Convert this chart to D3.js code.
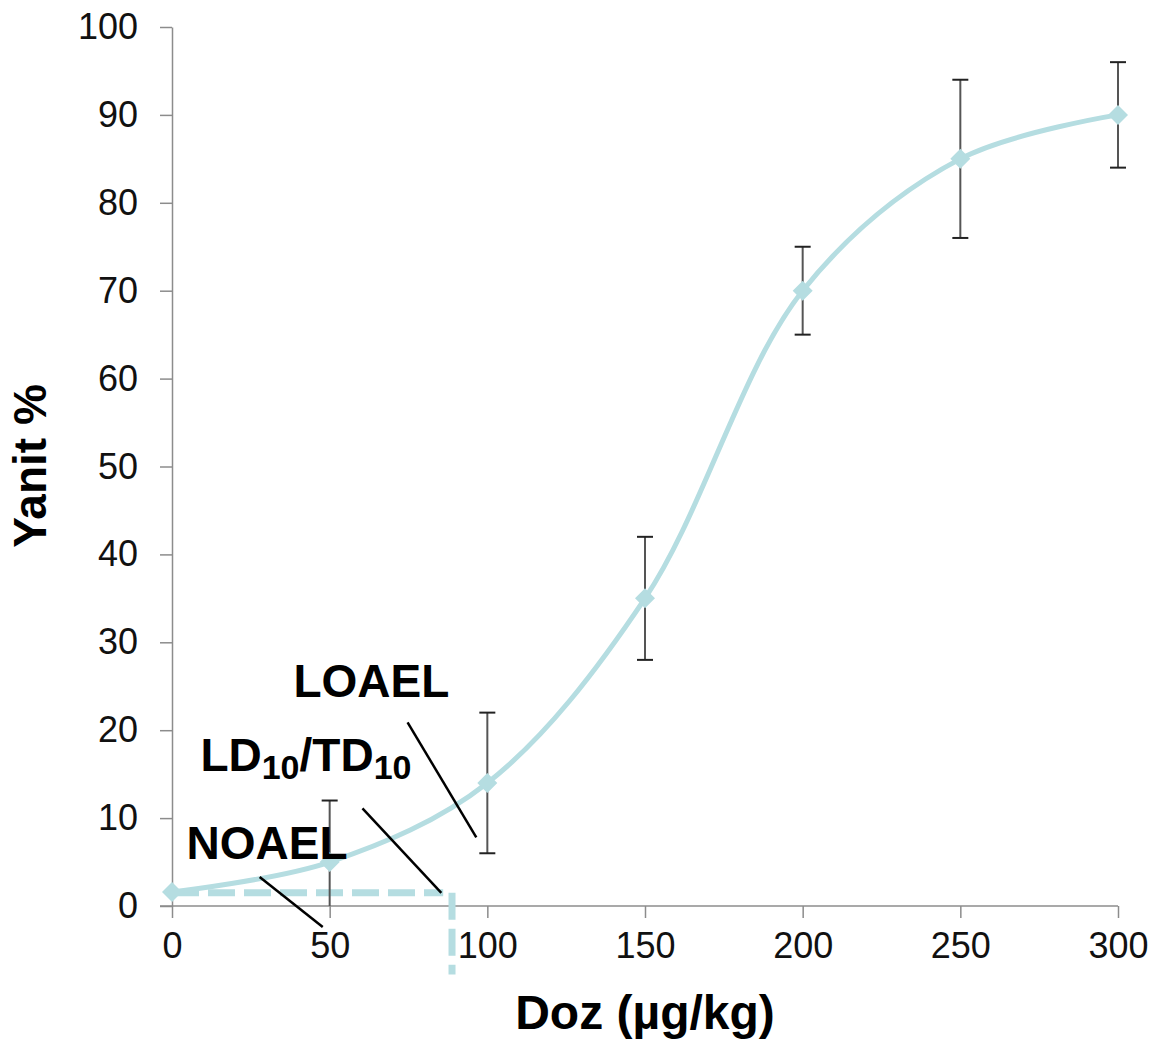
<!DOCTYPE html>
<html>
<head>
<meta charset="utf-8">
<script src="https://cdn.jsdelivr.net/npm/d3@7"></script>
<style>
  body { margin: 0; background: #fff; }
  svg text { font-family: "Liberation Sans", Arial, sans-serif; }
</style>
</head>
<body>
<svg id="chart" width="1151" height="1041"></svg>
<script>
// dose (µg/kg) vs response (%)
var doses = [0, 50, 100, 150, 200, 250, 300];
var yanit = [1.6, 5, 14, 35, 70, 85, 90];
var errUp = [0, 7, 8, 7, 5, 9, 6];
var errDown = [0, 7, 8, 7, 5, 9, 6];

var xTicks = [0, 50, 100, 150, 200, 250, 300];
var yTicks = [0, 10, 20, 30, 40, 50, 60, 70, 80, 90, 100];

// annotation labels and their leader lines, in data units
var labels = ["LOAEL", "LD10/TD10", "NOAEL"];
var labelPos = [[38.5, 23.8], [9, 15.4], [4.6, 5.3]];
var leaders = [
  [[74.7, 20.9], [96.5, 7.8]],
  [[60.4, 11.1], [85.4, 1.5]],
  [[27.8, 3.3], [47.8, -2.4]]
];
// dashed threshold line (LD10 dose)
var thresholdH = [[0, 1.5], [86, 1.5]];
var thresholdV = [[88.8, 1.5], [88.8, -7.8]];

var svg = d3.select("#chart");
var plotLeft = 172, plotRight = 1118, plotTop = 27, plotBottom = 906;

var x = d3.scaleLinear().domain([0, 300]).range([plotLeft, plotRight]);
var y = d3.scaleLinear().domain([0, 100]).range([plotBottom, plotTop]);

var lightBlue = "#b5dde1";
var axisGray = "#8c8c8c";

// axes
var yAxis = svg.append("g")
  .attr("transform", "translate(" + plotLeft + ",0)")
  .call(d3.axisLeft(y).tickValues(yTicks).tickSize(12).tickPadding(22).tickSizeOuter(0));
yAxis.select(".domain").attr("stroke", axisGray).attr("stroke-width", 1.5);
yAxis.selectAll(".tick line").attr("stroke", axisGray).attr("stroke-width", 1.5);
yAxis.selectAll(".tick text").attr("font-size", 36).attr("fill", "#111")
  .style("font-family", "Liberation Sans, Arial, sans-serif");

var xAxis = svg.append("g")
  .attr("transform", "translate(0," + plotBottom + ")")
  .call(d3.axisBottom(x).tickValues(xTicks).tickSize(12).tickPadding(14).tickSizeOuter(0));
xAxis.select(".domain").attr("stroke", axisGray).attr("stroke-width", 1.5)
  .attr("d", "M" + (plotLeft - 12) + ",0H" + plotRight);
xAxis.selectAll(".tick line").attr("stroke", axisGray).attr("stroke-width", 1.5);
xAxis.selectAll(".tick text").attr("font-size", 36).attr("fill", "#111")
  .style("font-family", "Liberation Sans, Arial, sans-serif");

// axis titles
svg.append("text")
  .attr("x", (plotLeft + plotRight) / 2)
  .attr("y", 1029)
  .attr("text-anchor", "middle")
  .attr("font-size", 48)
  .attr("font-weight", "bold")
  .text("Doz (µg/kg)");

svg.append("text")
  .attr("transform", "translate(46,466) rotate(-90)")
  .attr("text-anchor", "middle")
  .attr("font-size", 46)
  .attr("font-weight", "bold")
  .text("Yanit %");

// dashed threshold
var tline = d3.line().x(function(d) { return x(d[0]); }).y(function(d) { return y(d[1]); });
[thresholdH, thresholdV].forEach(function(seg) {
  svg.append("path")
    .datum(seg)
    .attr("d", tline)
    .attr("fill", "none")
    .attr("stroke", lightBlue)
    .attr("stroke-width", 7)
    .attr("stroke-dasharray", "27,9");
});

// error bars
var pts = doses.map(function(d, i) { return {x: d, y: yanit[i], up: errUp[i], dn: errDown[i]}; });
var eb = svg.append("g").selectAll("g").data(pts.filter(function(d) { return d.up > 0; })).enter().append("g");
eb.append("line")
  .attr("x1", function(d) { return x(d.x); }).attr("x2", function(d) { return x(d.x); })
  .attr("y1", function(d) { return y(d.y + d.up); })
  .attr("y2", function(d) { return y(Math.max(0, d.y - d.dn)); })
  .attr("stroke", "#555").attr("stroke-width", 2);
eb.append("line")
  .attr("x1", function(d) { return x(d.x) - 8; }).attr("x2", function(d) { return x(d.x) + 8; })
  .attr("y1", function(d) { return y(d.y + d.up); }).attr("y2", function(d) { return y(d.y + d.up); })
  .attr("stroke", "#222").attr("stroke-width", 2);
eb.filter(function(d) { return d.y - d.dn > 0; }).append("line")
  .attr("x1", function(d) { return x(d.x) - 8; }).attr("x2", function(d) { return x(d.x) + 8; })
  .attr("y1", function(d) { return y(d.y - d.dn); }).attr("y2", function(d) { return y(d.y - d.dn); })
  .attr("stroke", "#222").attr("stroke-width", 2);

// smooth curve
svg.append("path")
  .datum(pts)
  .attr("d", d3.line().curve(d3.curveCatmullRom.alpha(0.5))
    .x(function(d) { return x(d.x); }).y(function(d) { return y(d.y); }))
  .attr("fill", "none")
  .attr("stroke", lightBlue)
  .attr("stroke-width", 5);

// diamond markers
svg.append("g").selectAll("path").data(pts).enter().append("path")
  .attr("transform", function(d) { return "translate(" + x(d.x) + "," + y(d.y) + ")"; })
  .attr("d", "M0,-10L10,0L0,10L-10,0Z")
  .attr("fill", lightBlue);

// leader lines
svg.append("g").selectAll("line").data(leaders).enter().append("line")
  .attr("x1", function(d) { return x(d[0][0]); }).attr("y1", function(d) { return y(d[0][1]); })
  .attr("x2", function(d) { return x(d[1][0]); }).attr("y2", function(d) { return y(d[1][1]); })
  .attr("stroke", "#000").attr("stroke-width", 2.5);

// annotation labels
labels.forEach(function(lab, i) {
  var t = svg.append("text")
    .attr("x", x(labelPos[i][0]))
    .attr("y", y(labelPos[i][1]))
    .attr("font-size", 46)
    .attr("font-weight", "bold");
  var m = lab.match(/^(LD)(10)(\/TD)(10)$/);
  if (m) {
    t.append("tspan").text(m[1]);
    t.append("tspan").attr("font-size", 34).attr("dy", 8).text(m[2]);
    t.append("tspan").attr("dy", -8).text(m[3]);
    t.append("tspan").attr("font-size", 34).attr("dy", 8).text(m[4]);
  } else {
    t.text(lab);
  }
});
</script>
</body>
</html>
